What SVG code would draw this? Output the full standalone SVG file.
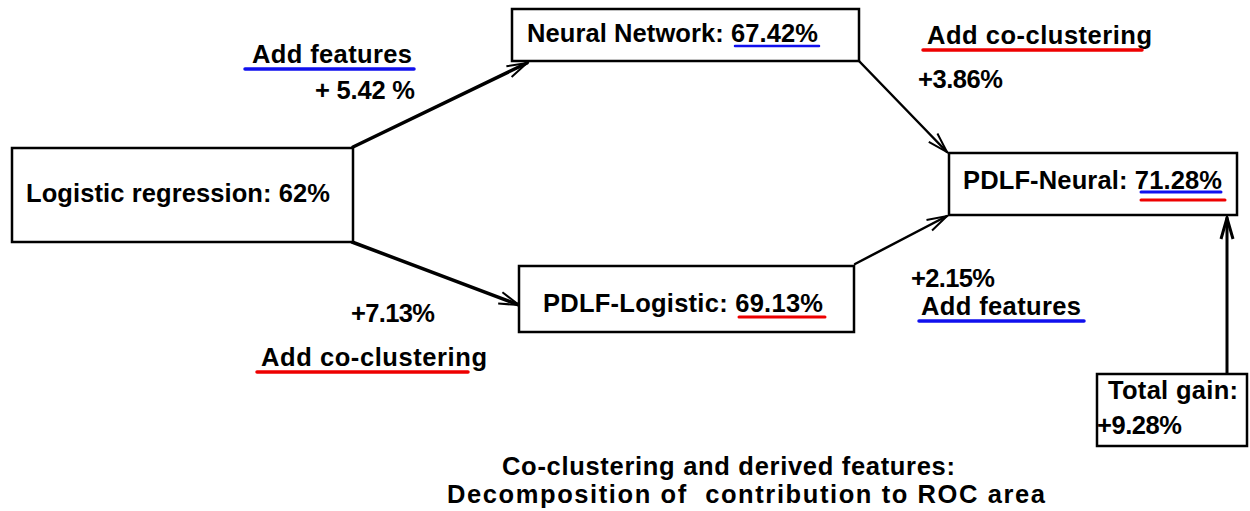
<svg xmlns="http://www.w3.org/2000/svg" width="1250" height="511" viewBox="0 0 1250 511">
<style>
.box{fill:#fff;stroke:#000;stroke-width:2.5}
.t{font-family:"Liberation Sans",Arial,sans-serif;font-weight:bold;font-size:25.5px;fill:#000}
.c{fill:none;stroke:#000;stroke-linecap:round}
.ub{stroke:#1010ee;stroke-width:3.5;stroke-linecap:round}
.ur{stroke:#ee0000;stroke-width:3.5;stroke-linecap:round}
</style>
<defs>
<marker id="ah" markerUnits="userSpaceOnUse" orient="auto" markerWidth="30" markerHeight="20" viewBox="-22 -10 26 20" refX="0" refY="0">
<path d="M-20,-6 L0,0 L-20,6" fill="none" stroke="#000" stroke-width="2"/>
</marker>
<marker id="ah2" markerUnits="userSpaceOnUse" orient="auto" markerWidth="30" markerHeight="20" viewBox="-24 -10 28 20" refX="0" refY="0">
<path d="M-21,-6 L0,0 L-21,6" fill="none" stroke="#000" stroke-width="3"/>
</marker>
</defs>
<rect width="1250" height="511" fill="#fff"/>
<g id="connectors">
<line class="c" x1="353" y1="147" x2="527" y2="63" stroke-width="3.5" marker-end="url(#ah)"/>
<line class="c" x1="352" y1="242" x2="519" y2="305" stroke-width="3.5" marker-end="url(#ah)"/>
<line class="c" x1="859" y1="61" x2="947" y2="152" stroke-width="2.5" marker-end="url(#ah)"/>
<line class="c" x1="855" y1="264" x2="947" y2="216" stroke-width="2.5" marker-end="url(#ah)"/>
<line class="c" x1="1227" y1="374" x2="1227" y2="218" stroke-width="3" marker-end="url(#ah2)"/>
</g>
<g id="logistic">
<rect class="box" x="12" y="148" width="341" height="94"/>
<text class="t" x="26" y="202" textLength="304" lengthAdjust="spacing">Logistic regression: 62%</text>
</g>
<g id="neural-network">
<rect class="box" x="512" y="9" width="347" height="52"/>
<text class="t" x="527" y="42" textLength="291" lengthAdjust="spacing">Neural Network: 67.42%</text>
<line class="ub" x1="735" y1="46" x2="819" y2="46" style="stroke-width:2.5"/>
</g>
<g id="pdlf-neural">
<rect class="box" x="949" y="153" width="288" height="62"/>
<text class="t" x="963" y="189" textLength="259" lengthAdjust="spacing">PDLF-Neural: 71.28%</text>
<line class="ub" x1="1141" y1="192" x2="1221" y2="192" style="stroke-width:3"/>
<line class="ur" x1="1141" y1="200" x2="1225" y2="200" style="stroke-width:3"/>
</g>
<g id="pdlf-logistic">
<rect class="box" x="519" y="266" width="335" height="66"/>
<text class="t" x="543" y="312" textLength="280" lengthAdjust="spacing">PDLF-Logistic: 69.13%</text>
<line class="ur" x1="739" y1="317" x2="825" y2="317" style="stroke-width:3"/>
</g>
<g id="total-gain">
<rect class="box" x="1097" y="374" width="150" height="72"/>
<text class="t" x="1108" y="399" textLength="130" lengthAdjust="spacing">Total gain:</text>
<text class="t" x="1097" y="434" textLength="85" lengthAdjust="spacing">+9.28%</text>
</g>
<g id="labels">
<text class="t" x="252" y="63" textLength="160" lengthAdjust="spacing">Add features</text>
<line class="ub" x1="245" y1="69" x2="414" y2="69"/>
<text class="t" x="315" y="99" textLength="100" lengthAdjust="spacing">+ 5.42 %</text>
<text class="t" x="927" y="44" textLength="225" lengthAdjust="spacing">Add co-clustering</text>
<line class="ur" x1="923" y1="50" x2="1142" y2="50"/>
<text class="t" x="918" y="88" textLength="85" lengthAdjust="spacing">+3.86%</text>
<text class="t" x="351" y="322" textLength="84" lengthAdjust="spacing">+7.13%</text>
<text class="t" x="261" y="366" textLength="226" lengthAdjust="spacing">Add co-clustering</text>
<line class="ur" x1="257" y1="372" x2="468" y2="372"/>
<text class="t" x="911" y="287" textLength="84" lengthAdjust="spacing">+2.15%</text>
<text class="t" x="921" y="315" textLength="160" lengthAdjust="spacing">Add features</text>
<line class="ub" x1="919" y1="321" x2="1084" y2="321"/>
</g>
<g id="title">
<text class="t" x="502" y="475" textLength="453" lengthAdjust="spacing">Co-clustering and derived features:</text>
<text class="t" x="447" y="503" textLength="598" lengthAdjust="spacing" xml:space="preserve" style="white-space:pre">Decomposition of  contribution to ROC area</text>
</g>
</svg>
